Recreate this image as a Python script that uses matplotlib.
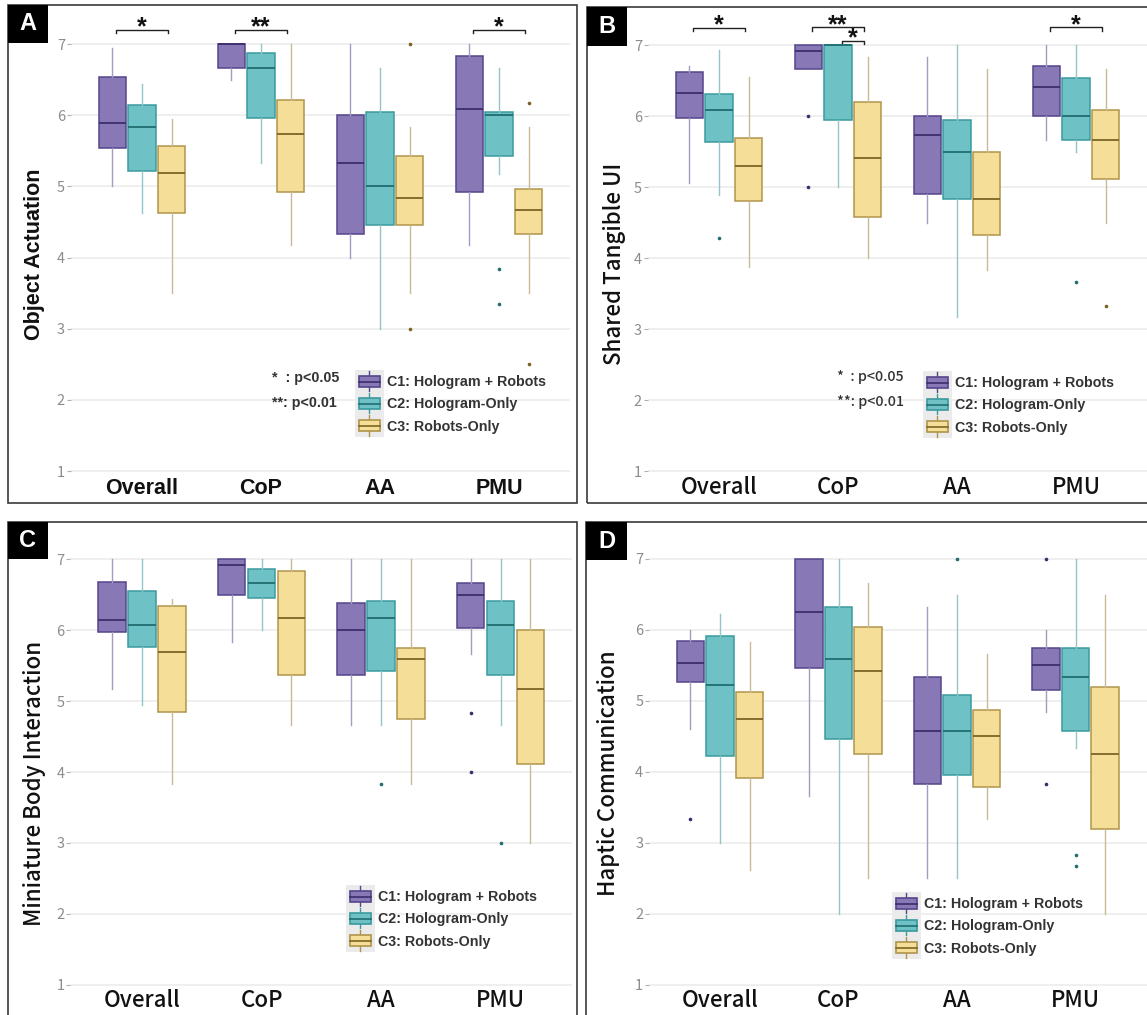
import matplotlib
matplotlib.use("Agg")
import matplotlib.pyplot as plt
from matplotlib.patches import Rectangle, Patch
from matplotlib.lines import Line2D
from matplotlib.legend_handler import HandlerBase

W, H = 1147, 1015
fig = plt.figure(figsize=(W / 100, H / 100), dpi=100)

categories = ["Overall", "CoP", "AA", "PMU"]
conditions = ["C1: Hologram + Robots", "C2: Hologram-Only", "C3: Robots-Only"]

# box statistics, rows = C1, C2, C3 ; columns = Overall, CoP, AA, PMU
A_lo = [[5.0, 6.5, 4.0, 4.17], [4.62, 5.33, 3.0, 5.17], [3.5, 4.17, 3.5, 3.5]]
A_q1 = [[5.54, 6.66, 4.33, 4.92], [5.22, 5.96, 4.46, 5.42], [4.63, 4.92, 4.46, 4.33]]
A_med = [[5.89, 7.0, 5.33, 6.08], [5.83, 6.66, 5.0, 6.0], [5.19, 5.74, 4.83, 4.67]]
A_q3 = [[6.54, 7.0, 6.0, 6.83], [6.14, 6.87, 6.04, 6.04], [5.56, 6.21, 5.42, 4.96]]
A_hi = [[6.94, 7.0, 7.0, 7.0], [6.44, 7.0, 6.66, 6.66], [5.95, 7.0, 5.83, 5.83]]
A_out = {(2, 2): [7.0, 3.0], (1, 3): [3.84, 3.34], (2, 3): [6.17, 2.5]}

B_lo = [[5.06, 6.66, 4.5, 5.66], [4.89, 5.0, 3.17, 5.5], [3.88, 4.0, 3.84, 4.5]]
B_q1 = [[5.97, 6.66, 4.91, 6.0], [5.63, 5.95, 4.83, 5.66], [4.80, 4.58, 4.33, 5.12]]
B_med = [[6.32, 6.91, 5.74, 6.41], [6.08, 7.0, 5.5, 6.0], [5.30, 5.41, 4.83, 5.66]]
B_q3 = [[6.62, 7.0, 6.0, 6.7], [6.31, 7.0, 5.95, 6.53], [5.69, 6.2, 5.5, 6.08]]
B_hi = [[6.71, 7.0, 6.83, 7.0], [6.93, 7.0, 7.0, 7.0], [6.55, 6.83, 6.66, 6.66]]
B_out = {(1, 0): [4.28], (0, 1): [6.0, 5.0], (1, 3): [3.67], (2, 3): [3.33]}

C_lo = [[5.17, 5.83, 4.67, 5.67], [4.95, 6.0, 4.67, 4.67], [3.83, 4.67, 3.83, 3.0]]
C_q1 = [[5.97, 6.5, 5.37, 6.04], [5.76, 6.46, 5.42, 5.37], [4.85, 5.37, 4.75, 4.12]]
C_med = [[6.14, 6.92, 6.0, 6.5], [6.08, 6.67, 6.17, 6.08], [5.70, 6.17, 5.59, 5.17]]
C_q3 = [[6.68, 7.0, 6.38, 6.67], [6.55, 6.87, 6.42, 6.42], [6.35, 6.84, 5.75, 6.0]]
C_hi = [[7.0, 7.0, 7.0, 7.0], [7.0, 7.0, 7.0, 7.0], [6.44, 7.0, 7.0, 7.0]]
C_out = {(1, 2): [3.83], (0, 3): [4.84, 4.0], (1, 3): [3.0]}

D_lo = [[4.61, 3.66, 2.5, 4.84], [3.0, 2.0, 2.5, 4.33], [2.62, 2.5, 3.33, 2.0]]
D_q1 = [[5.26, 5.46, 3.83, 5.16], [4.22, 4.46, 3.96, 4.58], [3.92, 4.25, 3.79, 3.2]]
D_med = [[5.53, 6.25, 4.58, 5.5], [5.22, 5.59, 4.58, 5.33], [4.75, 5.42, 4.50, 4.25]]
D_q3 = [[5.84, 7.0, 5.33, 5.75], [5.92, 6.33, 5.08, 5.75], [5.13, 6.04, 4.87, 5.2]]
D_hi = [[6.0, 7.0, 6.33, 6.0], [6.22, 7.0, 6.49, 7.0], [5.83, 6.66, 5.66, 6.49]]
D_out = {(0, 0): [3.33], (1, 2): [7.0], (0, 3): [7.0, 3.83], (1, 3): [2.83, 2.67]}

# significance brackets: (category, from condition, to condition, y, text)
A_sig = [(0, 0, 2, 7.2, "*"), (1, 0, 2, 7.2, "**"), (3, 0, 2, 7.2, "*")]
B_sig = [(0, 0, 2, 7.24, "*"), (1, 0, 2, 7.25, "**"), (1, 1, 2, 7.06, "*"), (3, 0, 2, 7.25, "*")]

fills = ["#8878b6", "#6ec2c6", "#f5df98"]
edges = ["#55458b", "#3a9a9e", "#b0944a"]
meds = ["#3c2d6c", "#216d70", "#7c6424"]
whisk = ["#a39bc0", "#94c6c8", "#c8bb95"]

BOLD = "Liberation Sans"
JP = ["Noto Sans CJK JP", "DejaVu Sans"]


def fx(x):
    return x / W


def fy(y):
    return 1 - y / H


class BoxKey(HandlerBase):
    def create_artists(self, legend, orig, xd, yd, width, height, fontsize, trans):
        i = orig.idx
        gap = legend.labelspacing * fontsize
        x0, y0 = -xd, -yd
        arts = [Rectangle((x0, y0 - gap / 2 - 0.5), width, height + gap + 1,
                          facecolor="#ebebeb", edgecolor="none", transform=trans)]
        bw, bh = width * 0.72, height * 0.8
        bx, by = x0 + (width - bw) / 2, y0 + (height - bh) / 2
        cx, cy = x0 + width / 2, y0 + height / 2
        arts.append(Line2D([cx, cx], [y0 - gap / 2, y0 + height + gap / 2],
                           color=edges[i], lw=1, transform=trans))
        arts.append(Rectangle((bx, by), bw, bh, facecolor=fills[i], edgecolor=edges[i],
                              lw=1.2, transform=trans))
        arts.append(Line2D([bx, bx + bw], [cy, cy], color=meds[i], lw=1.2, transform=trans))
        return arts


def draw_panel(letter, lo, q1, med, q3, hi, out, sig, p1, unit, y7, y1,
               ylabel, ylab_x, ylab_y, frame, lbox, leg_at, ptext_at, latin):
    px_unit = (y1 - y7) / 6
    left = p1 - 0.6 * unit
    top = y7 - 0.5 * px_unit
    bottom = y1 + 0.12 * px_unit
    ax = fig.add_axes([fx(left), fy(bottom), fx(4.2 * unit), (bottom - top) / H])
    ax.set_xlim(0.4, 4.6)
    ax.set_ylim(0.88, 7.5)
    for c in range(3):
        stats = []
        for k in range(4):
            stats.append(dict(med=med[c][k], q1=q1[c][k], q3=q3[c][k],
                              whislo=lo[c][k], whishi=hi[c][k], fliers=out.get((c, k), [])))
        pos = [k + 1 + (c - 1) * 0.25 for k in range(4)]
        ax.bxp(stats, positions=pos, widths=0.23, patch_artist=True, showcaps=False,
               boxprops=dict(facecolor=fills[c], edgecolor=edges[c], lw=1.1),
               medianprops=dict(color=meds[c], lw=1.3),
               whiskerprops=dict(color=whisk[c], lw=1.0),
               flierprops=dict(marker="o", markersize=1.6, markerfacecolor=meds[c],
                               markeredgecolor=meds[c]))
    for k, a, b, y, t in sig:
        xa = k + 1 + (a - 1) * 0.25 + 0.03
        xb = k + 1 + (b - 1) * 0.25 - 0.03
        ax.plot([xa, xa, xb, xb], [y - 0.05, y, y, y - 0.05], color="#222222", lw=1.0)
        ax.annotate(t, xy=((xa + xb) / 2, y), xytext=(0, -7), textcoords="offset points",
                    ha="center", va="bottom", fontsize=18, fontweight="bold",
                    family=BOLD, color="#111111")
    for s in ax.spines.values():
        s.set_visible(False)
    ax.set_yticks(range(1, 8))
    ax.set_xticks(range(1, 5))
    ax.set_xticklabels(categories)
    ax.yaxis.grid(True, color="#ebebeb", lw=1.1)
    ax.set_axisbelow(True)
    ax.tick_params(axis="y", length=3, color="#b0b0b0", pad=1, labelcolor="#8c8c8c",
                   labelsize=10.5)
    ax.tick_params(axis="x", length=0, pad=-1 if latin else -3)
    for lab in ax.get_yticklabels():
        lab.set_family(JP)
    for lab in ax.get_xticklabels():
        if latin:
            lab.set_family(BOLD)
            lab.set_fontweight("bold")
            lab.set_fontsize(15.5)
        else:
            lab.set_family(JP)
            lab.set_fontweight("medium")
            lab.set_fontsize(16)
        lab.set_color("#111111")
    if latin:
        fig.text(fx(ylab_x), fy(ylab_y), ylabel, rotation=90, ha="center", va="center",
                 family=BOLD, fontweight="bold", fontsize=15.5, color="#111111")
    else:
        fig.text(fx(ylab_x), fy(ylab_y), ylabel, rotation=90, ha="center", va="center",
                 family=JP, fontweight="medium", fontsize=16, color="#111111")

    # legend
    handles = []
    for i in range(3):
        h = Patch(label=conditions[i])
        h.idx = i
        handles.append(h)
    leg = fig.legend(handles=handles, loc="center left",
                     bbox_to_anchor=(fx(leg_at[0]), fy(leg_at[1])),
                     bbox_transform=fig.transFigure, frameon=False, borderpad=0,
                     borderaxespad=0, handlelength=2.0, handleheight=1.15,
                     labelspacing=0.5, handletextpad=0.25,
                     handler_map={Patch: BoxKey()},
                     prop=dict(family=BOLD, weight="bold", size=10.3))
    for t in leg.get_texts():
        t.set_color("#333333")
    if ptext_at is not None:
        fam = BOLD if latin else JP
        fw = "bold" if latin else "medium"
        fig.text(fx(ptext_at[0]), fy(ptext_at[1]), "*  : p<0.05", ha="left", va="center",
                 family=fam, fontweight=fw, fontsize=10.3, color="#333333")
        fig.text(fx(ptext_at[0]), fy(ptext_at[1] + 25), "**: p<0.01", ha="left", va="center",
                 family=fam, fontweight=fw, fontsize=10.3, color="#333333")

    # panel frame and letter box
    fx0, fy0, fx1, fy1 = frame
    fig.add_artist(Rectangle((fx(fx0), fy(fy1)), fx(fx1 - fx0), (fy1 - fy0) / H,
                             transform=fig.transFigure, fill=False, edgecolor="#3a3a3a",
                             lw=1.2, zorder=0))
    lx0, ly0, lx1, ly1 = lbox
    fig.add_artist(Rectangle((fx(lx0), fy(ly1)), fx(lx1 - lx0), (ly1 - ly0) / H,
                             transform=fig.transFigure, facecolor="black", edgecolor="none"))
    fig.text(fx((lx0 + lx1) / 2), fy((ly0 + ly1) / 2), letter, ha="center", va="center",
             color="white", fontsize=17, fontweight="bold", family=BOLD)


draw_panel("A", A_lo, A_q1, A_med, A_q3, A_hi, A_out, A_sig, 142, 119, 44, 471,
           "Object Actuation", 35, 254, (8, 5, 577, 503), (8, 5, 48, 43),
           (355, 404), (272, 378), True)
draw_panel("B", B_lo, B_q1, B_med, B_q3, B_hi, B_out, B_sig, 719, 119, 45, 471.5,
           "Shared Tangible UI", 614, 264, (587, 7, 1152, 503), (587, 7, 627, 46),
           (923, 405), (837, 377), False)
draw_panel("C", C_lo, C_q1, C_med, C_q3, C_hi, C_out, [], 142, 119.5, 559.5, 984.7,
           "Miniature Body Interaction", 35, 783, (8, 522, 577, 1020), (8, 522, 48, 559),
           (346, 919), None, False)
draw_panel("D", D_lo, D_q1, D_med, D_q3, D_hi, D_out, [], 720, 118.5, 559, 984.7,
           "Haptic Communication", 609, 773, (586, 522, 1152, 1020), (586, 522, 627, 560),
           (892, 926), None, False)

fig.savefig("out.png", dpi=100, facecolor="white")
